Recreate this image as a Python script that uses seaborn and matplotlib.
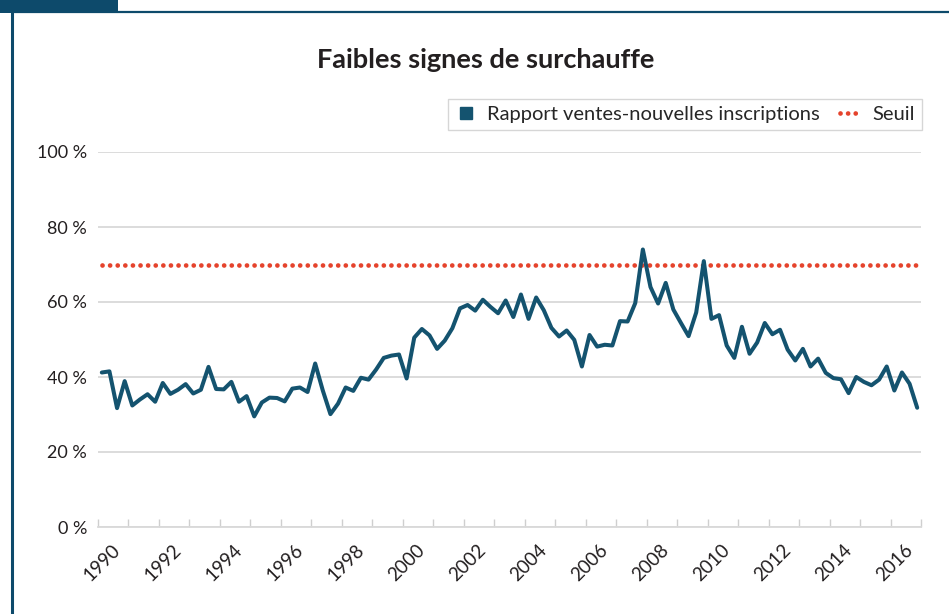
import numpy as np
import pandas as pd
import matplotlib.pyplot as plt
import seaborn as sns
from matplotlib.lines import Line2D
from matplotlib.patches import Rectangle
from matplotlib.ticker import FixedLocator

# données trimestrielles 1990T1 - 2016T4 (en %)
annees = list(range(1990, 2017))
trimestres = [f"{a}T{q}" for a in annees for q in range(1, 5)]
ratio = [41.2, 41.5, 31.7, 38.9, 32.4, 34.0, 35.4, 33.4, 38.4, 35.5,
         36.6, 38.1, 35.6, 36.6, 42.7, 36.8, 36.7, 38.7, 33.4, 34.9,
         29.5, 33.2, 34.5, 34.4, 33.5, 36.9, 37.2, 36.0, 43.6, 36.4,
         30.1, 32.9, 37.2, 36.3, 39.8, 39.3, 42.0, 45.1, 45.7, 46.0,
         39.6, 50.5, 52.8, 51.1, 47.5, 49.7, 53.0, 58.3, 59.2, 57.7,
         60.6, 58.7, 57.0, 60.4, 56.0, 62.0, 55.5, 61.2, 57.8, 53.1,
         50.8, 52.4, 49.9, 42.8, 51.2, 48.1, 48.6, 48.4, 54.9, 54.8,
         59.7, 74.0, 64.0, 59.6, 65.1, 58.0, 54.4, 50.9, 57.2, 70.9,
         55.5, 56.5, 48.4, 45.1, 53.4, 46.2, 49.2, 54.4, 51.4, 52.6,
         47.3, 44.4, 47.5, 42.8, 44.9, 41.1, 39.7, 39.4, 35.7, 40.0,
         38.7, 37.8, 39.3, 42.8, 36.4, 41.2, 38.2, 31.8]
seuil = 70
etiquettes_x = [str(a) for a in annees[::2]]
etiquettes_y = ["0 %", "20 %", "40 %", "60 %", "80 %", "100 %"]

df = pd.DataFrame({"pos": np.arange(len(trimestres)), "trimestre": trimestres,
                   "ratio": ratio, "seuil": seuil})

navy = "#14536f"
rouge = "#e5432c"
gris = "#d9d9d9"
texte = "#231f20"

sns.set_theme(style="white")
plt.rcParams["font.family"] = ["Lato", "DejaVu Sans"]

W, H = 949, 614
fig = plt.figure(figsize=(W / 100, H / 100), dpi=100)
ax = fig.add_axes([98 / W, 1 - 527 / H, (921 - 98) / W, (527 - 152) / H])

sns.lineplot(data=df, x="pos", y="seuil", ax=ax, color=rouge, lw=3.4,
             linestyle=(0, (0.01, 1.6)), dash_capstyle="round")
sns.lineplot(data=df, x="pos", y="ratio", ax=ax, color=navy, lw=2.9)

n = len(trimestres)
ax.set_xlim(-0.5, n - 0.5)
ax.set_ylim(0, 100)
ax.set_xlabel("")
ax.set_ylabel("")

ax.set_yticks(np.arange(0, 101, 20))
ax.set_yticklabels(etiquettes_y)
ax.yaxis.grid(True, color=gris, lw=1.3)
ax.tick_params(axis="y", length=0, pad=8, labelsize=13, labelcolor=texte)

ax.xaxis.set_major_locator(FixedLocator(df["pos"][::8].tolist()))
ax.set_xticklabels(etiquettes_x, rotation=45, ha="center")
ax.tick_params(axis="x", which="major", length=0, pad=10, labelsize=13.5, labelcolor=texte)
ax.xaxis.set_minor_locator(FixedLocator(np.arange(1.5, n, 4)))
ax.tick_params(axis="x", which="minor", direction="in", length=3, width=1, color="#cfcfcf")

sec = ax.secondary_xaxis(0)
sec.set_xticks(np.arange(-0.5, n, 4))
sec.tick_params(direction="in", length=6, width=1, color="#cfcfcf", labelbottom=False)
sec.spines["bottom"].set_visible(False)

for s in ["top", "right", "left"]:
    ax.spines[s].set_visible(False)
ax.spines["bottom"].set_color(gris)
ax.spines["bottom"].set_linewidth(1.3)

fig.text(486 / W, 1 - 60 / H, "Faibles signes de surchauffe", ha="center", va="center",
         fontsize=19.5, fontweight="bold", color=texte)

poignees = [Line2D([], [], marker="s", ls="none", color=navy, markersize=9),
            Line2D([], [], color=rouge, lw=3.4, ls=(0, (0.01, 1.6)), dash_capstyle="round")]
fig.legend(poignees, ["Rapport ventes-nouvelles inscriptions", "Seuil"],
           loc="upper right", bbox_to_anchor=(922 / W, 1 - 99 / H), ncol=2,
           frameon=True, fancybox=False, edgecolor="#cccccc", fontsize=14.5,
           handlelength=1.1, handletextpad=0.5, columnspacing=1.0,
           borderpad=0.35, borderaxespad=0)

# cadre
fig.add_artist(Rectangle((0, 1 - 13 / H), 118 / W, 13 / H, transform=fig.transFigure,
                         color="#0d4a6b", lw=0))
fig.add_artist(Line2D([12 / W, 12 / W], [0, 1 - 12 / H], transform=fig.transFigure,
                      color="#0d4a6b", lw=2.2))
fig.add_artist(Line2D([12 / W, 1], [1 - 12 / H, 1 - 12 / H], transform=fig.transFigure,
                      color="#0d4a6b", lw=1.6))

fig.savefig("out.png", dpi=100)
